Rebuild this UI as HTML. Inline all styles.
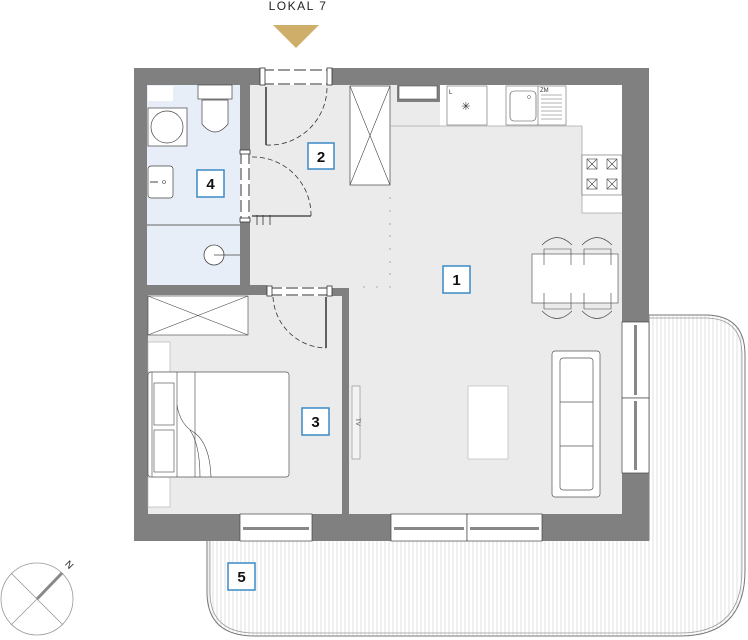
<!DOCTYPE html>
<html><head><meta charset="utf-8"><style>
html,body{margin:0;padding:0;background:#fff;width:748px;height:640px;overflow:hidden}
svg{display:block}
text{font-family:"Liberation Sans","DejaVu Sans",sans-serif}
</style></head><body>
<svg width="748" height="640" viewBox="0 0 748 640" xmlns="http://www.w3.org/2000/svg">
<defs>
<pattern id="hatch" width="4" height="10" patternUnits="userSpaceOnUse">
<rect width="4" height="10" fill="#fff"/><line x1="1" y1="0" x2="1" y2="10" stroke="#d4d4d4" stroke-width="0.7"/>
</pattern>
</defs>
<!-- terrace -->
<path d="M207 540 L207 592 Q207 636 255 636 L680 636 Q745 636 745 570 L745 355 Q745 315 705 315 L649 315 L649 540 Z" fill="url(#hatch)" stroke="#777" stroke-width="1"/>
<path d="M210 540 L210 592 Q210 633 255 633 L680 633 Q742 633 742 570 L742 355 Q742 318 705 318 L649 318" fill="none" stroke="#999" stroke-width="0.8"/>
<!-- walls -->
<rect x="134" y="68" width="515" height="473" fill="#808080"/>
<!-- floors -->
<rect x="148" y="85" width="474" height="429" fill="#ebebeb"/>
<rect x="147" y="85" width="93" height="200" fill="#e8eef7"/>
<!-- inner walls -->
<rect x="240" y="85" width="10" height="210" fill="#808080"/>
<rect x="147" y="285" width="120" height="10" fill="#808080"/>
<rect x="332" y="288" width="17" height="8" fill="#808080"/>
<rect x="342" y="288" width="7" height="226" fill="#808080"/>
<rect x="397" y="85" width="43" height="17" fill="#808080"/>
<rect x="399" y="86" width="38" height="13" fill="#fff" stroke="#555" stroke-width="0.6"/>
<rect x="148" y="86" width="25" height="15" fill="#fff"/>
<line x1="147" y1="225" x2="240" y2="225" stroke="#666" stroke-width="1"/>
<!-- entrance door top -->
<rect x="260" y="68" width="72" height="17" fill="#fff"/>
<line x1="262" y1="70" x2="330" y2="70" stroke="#333" stroke-width="1" stroke-dasharray="12,4"/>
<line x1="262" y1="84" x2="330" y2="84" stroke="#333" stroke-width="1" stroke-dasharray="12,4"/>
<rect x="260" y="68" width="5" height="17" fill="#fff" stroke="#333" stroke-width="0.8"/>
<rect x="327" y="68" width="5" height="17" fill="#fff" stroke="#333" stroke-width="0.8"/>
<line x1="266" y1="87" x2="266" y2="145" stroke="#333" stroke-width="1.5"/>
<path d="M266 145 A58 58 0 0 0 327 87" fill="none" stroke="#333" stroke-width="0.8" stroke-dasharray="5,3"/>
<!-- bathroom door -->
<rect x="240" y="150" width="10" height="72" fill="#fff"/>
<line x1="241" y1="152" x2="241" y2="220" stroke="#333" stroke-width="1" stroke-dasharray="12,4"/>
<line x1="249" y1="152" x2="249" y2="220" stroke="#333" stroke-width="1" stroke-dasharray="12,4"/>
<rect x="240" y="150" width="10" height="4" fill="#fff" stroke="#333" stroke-width="0.8"/>
<rect x="240" y="218" width="10" height="4" fill="#fff" stroke="#333" stroke-width="0.8"/>
<line x1="252" y1="216" x2="311" y2="216" stroke="#333" stroke-width="1.2"/>
<path d="M252 157 A58 58 0 0 1 311 216" fill="none" stroke="#333" stroke-width="0.8" stroke-dasharray="5,3"/>
<path d="M257 215v10M263 215v10M270 215v10" stroke="#333" stroke-width="0.8"/>
<!-- bedroom door -->
<rect x="267" y="287" width="65" height="9" fill="#fff"/>
<line x1="270" y1="288" x2="330" y2="288" stroke="#333" stroke-width="1" stroke-dasharray="12,4"/>
<line x1="270" y1="295" x2="330" y2="295" stroke="#333" stroke-width="1" stroke-dasharray="12,4"/>
<rect x="267" y="286" width="5" height="10" fill="#fff" stroke="#333" stroke-width="0.8"/>
<rect x="327" y="286" width="5" height="10" fill="#fff" stroke="#333" stroke-width="0.8"/>
<line x1="326" y1="297" x2="326" y2="348" stroke="#333" stroke-width="1.5"/>
<path d="M273 297 A54 54 0 0 0 326 348" fill="none" stroke="#333" stroke-width="0.8" stroke-dasharray="5,3"/>
<!-- bathroom fixtures -->
<rect x="198" y="85" width="34" height="14" fill="#fff" stroke="#444" stroke-width="0.7"/>
<path d="M202 100 L228 100 L228 124 Q215 140 202 124 Z" fill="#fff" stroke="#444" stroke-width="0.7"/>
<rect x="148" y="108" width="39" height="38" fill="#fff" stroke="#444" stroke-width="0.7"/>
<circle cx="167" cy="127" r="16" fill="#fff" stroke="#444" stroke-width="0.7"/>
<rect x="148" y="166" width="25" height="32" rx="3" fill="#fff" stroke="#444" stroke-width="0.7"/>
<line x1="150" y1="182" x2="158" y2="182" stroke="#444"/>
<circle cx="164" cy="182" r="1.5" fill="none" stroke="#444" stroke-width="0.6"/>
<circle cx="214" cy="255" r="10" fill="#fff" stroke="#444" stroke-width="0.8"/>
<line x1="214" y1="255" x2="240" y2="255" stroke="#444" stroke-width="0.8"/>
<!-- hall wardrobe -->
<rect x="350" y="86" width="40" height="99" fill="#fff" stroke="#444" stroke-width="0.7"/>
<path d="M350 86 L390 185 M390 86 L350 185" stroke="#444" stroke-width="0.6"/>
<g fill="#999"><circle cx="390" cy="198" r=".7"/><circle cx="390" cy="211" r=".7"/><circle cx="390" cy="224" r=".7"/><circle cx="390" cy="236" r=".7"/><circle cx="390" cy="249" r=".7"/><circle cx="390" cy="262" r=".7"/><circle cx="390" cy="274" r=".7"/><circle cx="390" cy="287" r=".7"/><circle cx="364" cy="287" r=".7"/><circle cx="377" cy="287" r=".7"/></g>
<!-- kitchen -->
<rect x="440" y="85" width="142" height="41" fill="#fff"/>
<rect x="582" y="85" width="40" height="128" fill="#fff"/>
<path d="M390 126 L582 126 L582 213 L622 213" fill="none" stroke="#aaa" stroke-width="0.8"/>
<rect x="447" y="86" width="40" height="39" fill="#fff" stroke="#666" stroke-width="0.6"/>
<text x="449" y="94" font-size="6" fill="#333">L</text>
<text x="466" y="110" font-size="11" text-anchor="middle" fill="#333">✳</text>
<rect x="506" y="86" width="60" height="39" fill="#fff" stroke="#666" stroke-width="0.6"/>
<rect x="510" y="91" width="26" height="30" rx="4" fill="#fff" stroke="#444" stroke-width="0.6"/>
<circle cx="529" cy="97" r="1.5" fill="none" stroke="#444" stroke-width="0.5"/>
<line x1="538" y1="86" x2="538" y2="125" stroke="#666" stroke-width="0.6"/>
<path d="M541 95h21M541 99h21M541 103h21M541 107h21M541 111h21M541 115h21M541 119h21" stroke="#666" stroke-width="0.6"/>
<text x="540" y="92" font-size="6" fill="#333">ZM</text>
<rect x="582" y="155" width="40" height="40" fill="#fff" stroke="#666" stroke-width="0.6"/>
<g stroke="#444" stroke-width="0.6" fill="none">
<rect x="587" y="159" width="10" height="10"/><rect x="607" y="159" width="10" height="10"/><rect x="587" y="179" width="10" height="10"/><rect x="607" y="179" width="10" height="10"/>
<path d="M587 159l10 10M597 159l-10 10M607 159l10 10M617 159l-10 10M587 179l10 10M597 179l-10 10M607 179l10 10M617 179l-10 10"/>
</g>
<!-- dining -->
<rect x="532" y="254" width="86" height="49" fill="#fff" stroke="#444" stroke-width="0.6"/>
<g fill="none" stroke="#444" stroke-width="0.6">
<path d="M544 265v-16h27v16M584 265v-16h27v16M544 293v16h27v-16M584 293v16h27v-16"/>
<path d="M542 245 Q557 230 572 245M582 245 Q597 230 612 245M542 311 Q557 326 572 311M582 311 Q597 326 612 311"/>
</g>
<!-- sofa -->
<g fill="#fff" stroke="#555" stroke-width="0.7">
<rect x="552" y="351" width="48" height="146" rx="3"/>
<rect x="560" y="358" width="33" height="132" rx="3" fill="#fff"/>
<line x1="560" y1="402" x2="593" y2="402"/><line x1="560" y1="446" x2="593" y2="446"/>
</g>
<rect x="468" y="386" width="40" height="73" fill="#fff" stroke="#bbb" stroke-width="0.7"/>
<rect x="352" y="386" width="8" height="73" fill="#f3f3f3" stroke="#888" stroke-width="0.6"/>
<text x="356" y="422" font-size="6" fill="#444" text-anchor="middle" transform="rotate(90 356 422)">TV</text>
<!-- bedroom -->
<rect x="148" y="296" width="100" height="39" fill="#fff" stroke="#444" stroke-width="0.6"/>
<path d="M148 296 L248 335 M248 296 L148 335" stroke="#444" stroke-width="0.6"/>
<rect x="148" y="342" width="22" height="30" fill="#fff" stroke="#aaa" stroke-width="0.6"/>
<rect x="148" y="477" width="22" height="30" fill="#fff" stroke="#aaa" stroke-width="0.6"/>
<rect x="148" y="372" width="141" height="105" rx="3" fill="#fff" stroke="#555" stroke-width="0.7"/>
<g fill="none" stroke="#444" stroke-width="0.6">
<line x1="152" y1="372" x2="152" y2="477"/>
<rect x="154" y="383" width="20" height="42"/><rect x="154" y="430" width="20" height="42"/>
<line x1="177" y1="372" x2="177" y2="477"/><line x1="195" y1="372" x2="195" y2="477"/>
<path d="M177 405 Q180 425 195 433 Q210 445 211 477"/>
<path d="M190 430 Q200 445 200 477"/>
</g>
<!-- windows -->
<g fill="#fff" stroke="#444" stroke-width="0.7">
<rect x="240" y="514" width="72" height="27"/><rect x="391" y="514" width="76" height="27"/><rect x="467" y="514" width="75" height="27"/>
<rect x="622" y="322" width="27" height="76"/><rect x="622" y="398" width="27" height="75"/>
</g>
<g fill="#888">
<rect x="243" y="527" width="66" height="3"/><rect x="394" y="527" width="70" height="3"/><rect x="470" y="527" width="69" height="3"/>
<rect x="634" y="325" width="3" height="70"/><rect x="634" y="401" width="3" height="69"/>
</g>
<!-- labels -->
<g fill="#fff" stroke="#3a8ac6" stroke-width="1.5">
<rect x="443" y="266" width="27" height="27"/><rect x="308" y="143" width="26" height="26"/>
<rect x="197" y="170" width="27" height="27"/><rect x="302" y="408" width="27" height="27"/>
<rect x="228" y="563" width="27" height="27"/>
</g>
<g font-size="15" font-weight="bold" text-anchor="middle" fill="#111">
<text x="456.5" y="285">1</text><text x="321" y="162">2</text><text x="210.5" y="189">4</text><text x="315.5" y="427">3</text><text x="241.5" y="582">5</text>
</g>
<!-- top marker -->
<text x="298" y="10" font-size="12" text-anchor="middle" letter-spacing="1.5" fill="#222">LOKAL 7</text>
<polygon points="273,25 319,25 296,48" fill="#cfae69"/>
<!-- compass -->
<circle cx="37" cy="599" r="36" fill="none" stroke="#999" stroke-width="0.8"/>
<path d="M11 573 L63 625 M63 573 L11 625" stroke="#999" stroke-width="0.8"/>
<line x1="37" y1="599" x2="62" y2="573" stroke="#888" stroke-width="3"/>
<text x="69" y="568" font-size="10" fill="#222" transform="rotate(45 69 565)" text-anchor="middle">N</text>
</svg>
</body></html>
